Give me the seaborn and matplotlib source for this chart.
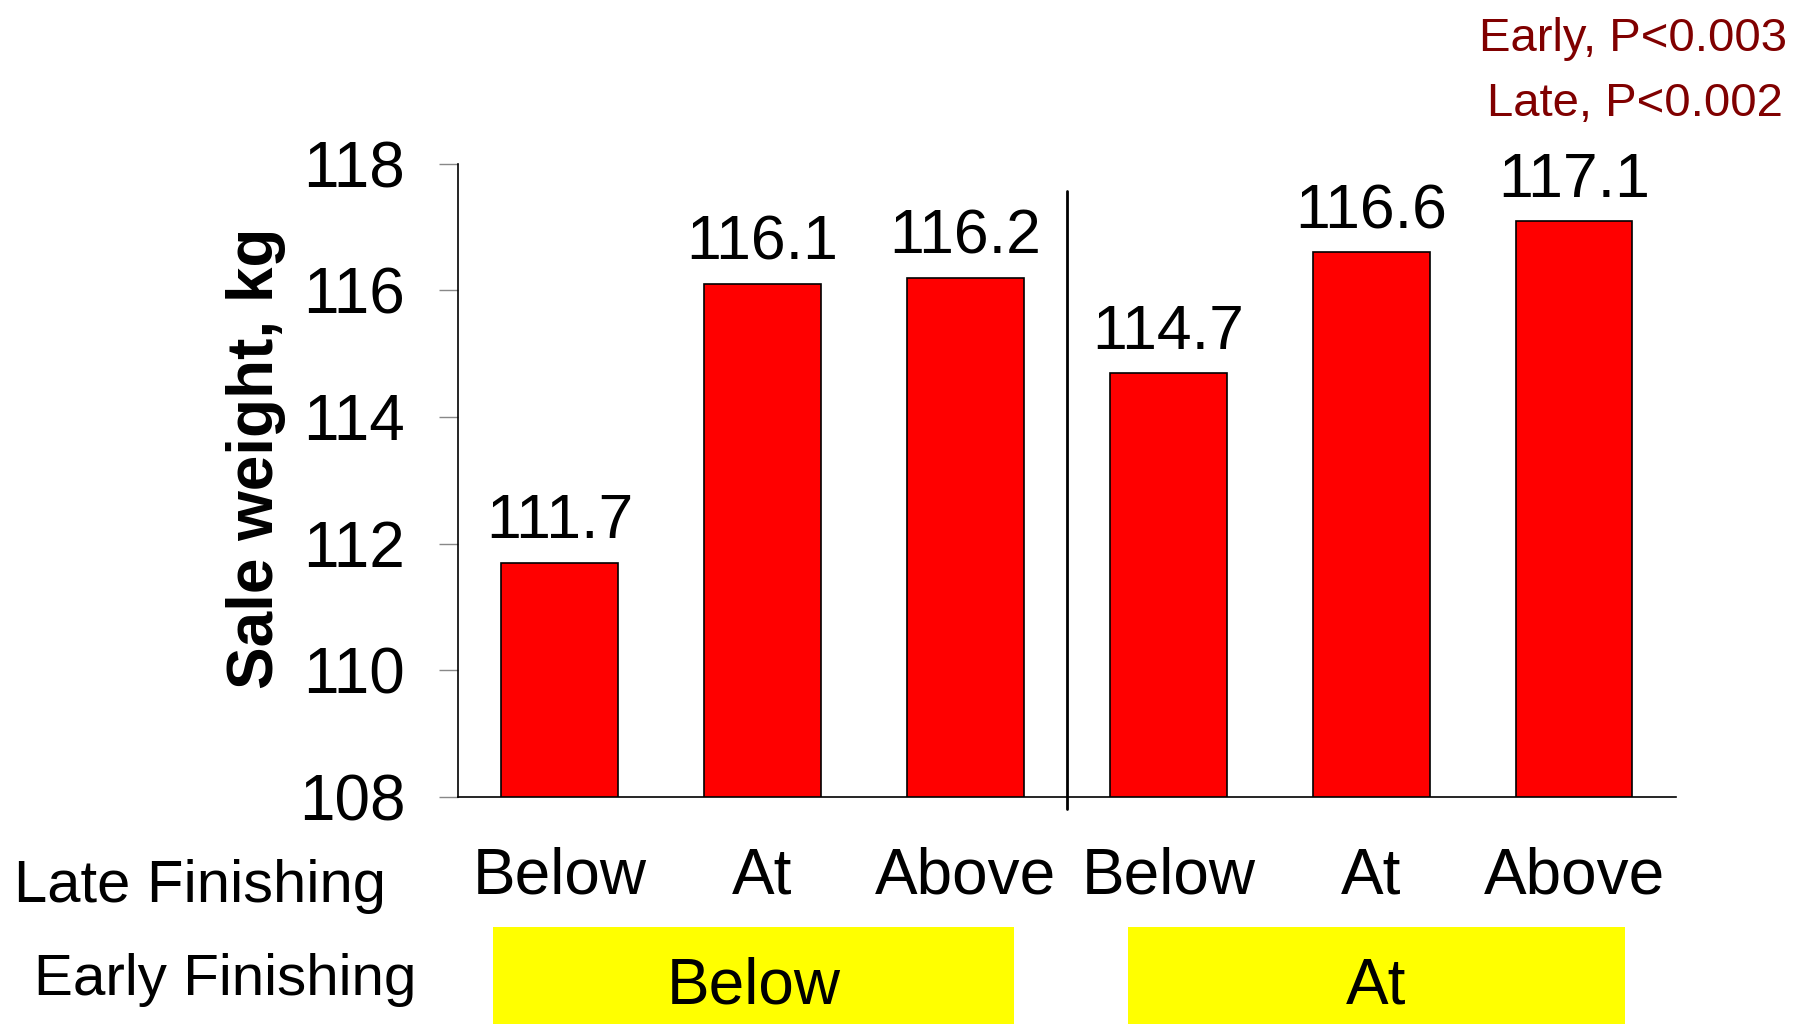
import matplotlib
matplotlib.use("Agg")
import matplotlib.pyplot as plt
import matplotlib.transforms as mtransforms
from matplotlib.patches import Rectangle
import seaborn as sns
import pandas as pd

# Sale weight by late/early finishing status
late_finishing = ["Below", "At", "Above", "Below", "At", "Above"]
early_finishing = ["Below", "Below", "Below", "At", "At", "At"]
sale_weight = [111.7, 116.1, 116.2, 114.7, 116.6, 117.1]
early_groups = ["Below", "At"]
y_ticks = [108, 110, 112, 114, 116, 118]
p_notes = ["Early, P<0.003", "Late, P<0.002"]

df = pd.DataFrame({
    "group": [f"{e}|{l}" for e, l in zip(early_finishing, late_finishing)],
    "late": late_finishing,
    "early": early_finishing,
    "weight": sale_weight,
})

sns.set_theme(style="white")
plt.rcParams["font.family"] = ["Liberation Sans", "DejaVu Sans"]
plt.rcParams["text.color"] = "black"
plt.rcParams["axes.labelcolor"] = "black"
plt.rcParams["xtick.color"] = "black"
plt.rcParams["ytick.color"] = "black"

fig = plt.figure(figsize=(17.94, 10.24), dpi=100)
ax = fig.add_axes([0.2553, 0.222, 0.6787, 0.618])

sns.barplot(data=df, x="group", y="weight", order=list(df["group"]),
            color="#FF0000", saturation=1, edgecolor="black", linewidth=1.2,
            width=0.575, ax=ax)

ax.set_xlim(-0.5, 5.5)
ax.set_ylim(108, 118)
ax.set_yticks(y_ticks)
ax.set_yticklabels([str(t) for t in y_ticks], fontsize=46)
ax.tick_params(axis="y", direction="out", length=14, width=1, color="#888888",
               labelcolor="black", pad=24, left=True)
ax.set_xticks(range(len(late_finishing)))
ax.set_xticklabels(late_finishing, fontsize=46)
ax.tick_params(axis="x", length=0, pad=36, labelcolor="black")
ax.set_xlabel("")
ax.set_ylabel("Sale weight, kg", fontsize=46, fontweight="bold")
ax.yaxis.set_label_coords(-0.141, 0.535)

for side in ["top", "right"]:
    ax.spines[side].set_visible(False)
for side in ["left", "bottom"]:
    ax.spines[side].set_color("black")
    ax.spines[side].set_linewidth(1.2)

# value labels above bars
for container in ax.containers:
    ax.bar_label(container, labels=[f"{v:.1f}" for v in sale_weight],
                 padding=8, fontsize=45, color="black")

# divider between early-finishing groups
ax.plot([2.5, 2.5], [107.8, 117.57], color="black", lw=2, clip_on=False)

# row titles
fig.text(0.008, 0.134, "Late Finishing", fontsize=43, ha="left", va="center")
fig.text(0.019, 0.043, "Early Finishing", fontsize=42, ha="left", va="center")

# early finishing group boxes
trans = mtransforms.blended_transform_factory(ax.transData, fig.transFigure)
spans = [(-0.33, 2.24), (2.80, 5.25)]
for (x0, x1), name in zip(spans, early_groups):
    ax.add_patch(Rectangle((x0, 0.0), x1 - x0, 0.095, transform=trans,
                           facecolor="#FFFF00", edgecolor="none", clip_on=False))
    ax.text((x0 + x1) / 2, 0.037, name, transform=trans, fontsize=46,
            ha="center", va="center")

# significance notes
fig.text(0.996, 0.962, p_notes[0], fontsize=34, color="#800000",
         ha="right", va="center")
fig.text(0.994, 0.898, p_notes[1], fontsize=34, color="#800000",
         ha="right", va="center")

fig.savefig("out.png", dpi=100, facecolor="white")
